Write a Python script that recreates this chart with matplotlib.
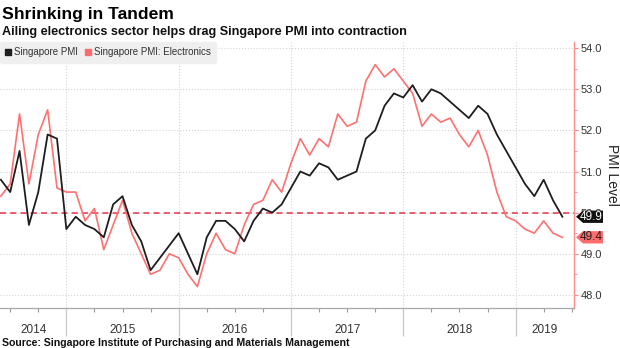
import matplotlib
matplotlib.use('Agg')
import matplotlib.pyplot as plt
import matplotlib.transforms as mtransforms
from matplotlib.patches import Polygon
from matplotlib.lines import Line2D
from matplotlib.ticker import MultipleLocator, FixedLocator, NullFormatter, FormatStrFormatter

plt.rcParams['font.family'] = ['Liberation Sans', 'DejaVu Sans']

# ---- data (monthly, May 2014 .. May 2019) ----
start_year, start_month = 2014, 5
pmi = [50.8, 50.5, 51.5, 49.7, 50.5, 51.9, 51.8, 49.6, 49.9, 49.7,
       49.6, 49.4, 50.2, 50.4, 49.7, 49.3, 48.6, 48.9, 49.2, 49.5,
       49.0, 48.5, 49.4, 49.8, 49.8, 49.6, 49.3, 49.8, 50.1, 50.0,
       50.2, 50.6, 51.0, 50.9, 51.2, 51.1, 50.8, 50.9, 51.0, 51.8,
       52.0, 52.6, 52.9, 52.8, 53.1, 52.7, 53.0, 52.9, 52.7, 52.5,
       52.3, 52.6, 52.4, 51.9, 51.5, 51.1, 50.7, 50.4, 50.8, 50.3,
       49.9]
electronics = [50.4, 50.7, 52.4, 50.7, 51.9, 52.5, 50.6, 50.5, 50.5, 49.8,
               50.1, 49.1, 49.7, 50.3, 49.5, 49.0, 48.5, 48.6, 49.0, 48.9,
               48.5, 48.2, 49.0, 49.5, 49.1, 49.0, 49.7, 50.2, 50.3, 50.8,
               50.5, 51.2, 51.8, 51.4, 51.8, 51.6, 52.4, 52.1, 52.2, 53.2,
               53.6, 53.3, 53.5, 53.2, 52.9, 52.1, 52.4, 52.2, 52.3, 51.9,
               51.6, 52.0, 51.4, 50.5, 49.9, 49.8, 49.6, 49.5, 49.8, 49.5,
               49.4]
series_labels = ['Singapore PMI', 'Singapore PMI: Electronics']
years = [2014, 2015, 2016, 2017, 2018, 2019]
y_ticks = [48.0, 49.0, 50.0, 51.0, 52.0, 53.0, 54.0]
threshold = 50.0

# x position: months since Jan 2014, month-end placement
x = [(start_year - years[0]) * 12 + start_month + i for i in range(len(pmi))]

BLACK = '#1e1e1e'
RED = '#ff7070'

fig = plt.figure(figsize=(6.2, 3.48), dpi=100)
ax = fig.add_axes([0.0, 0.1149, 0.9258, 0.7644])

xmin, xmax = 4.91, 66.24
ax.set_xlim(xmin, xmax)
ax.set_ylim(47.68, 54.15)

ax.plot(x, electronics, color=RED, lw=1.2, zorder=3)
ax.plot(x, pmi, color=BLACK, lw=1.3, zorder=4)
ax.axhline(threshold, color='#e2354c', lw=1.1, ls=(0, (4, 2.7)), zorder=2.6)

# axes styling
for s in ['top', 'left']:
    ax.spines[s].set_visible(False)
ax.spines['right'].set_color('#ff8a8a')
ax.spines['right'].set_linewidth(1.0)
ax.spines['bottom'].set_color('#a8a8a8')
ax.spines['bottom'].set_linewidth(0.9)

year_bounds = [(y - years[0]) * 12 for y in years[1:]]
ax.xaxis.set_major_locator(FixedLocator(year_bounds))
ax.xaxis.set_minor_locator(MultipleLocator(3))
ax.xaxis.set_major_formatter(NullFormatter())
ax.tick_params(axis='x', which='major', length=20, color='#c8c8c8', width=0.9)
ax.tick_params(axis='x', which='minor', length=3, color='#999999', width=0.8)

ax.yaxis.tick_right()
ax.yaxis.set_major_locator(FixedLocator(y_ticks))
ax.yaxis.set_minor_locator(MultipleLocator(0.5))
ax.yaxis.set_major_formatter(FormatStrFormatter('%.1f'))
ax.tick_params(axis='y', which='major', length=3, color='#ff8a8a', labelsize=8,
               labelcolor='#333333', pad=2)
ax.tick_params(axis='y', which='minor', length=2, color='#ff8a8a')

ax.grid(axis='both', which='major', color='#d4d4d4', ls=':', lw=0.8)
ax.set_axisbelow(True)

# year labels
trans = mtransforms.blended_transform_factory(ax.transData, ax.transAxes)
for i, yr in enumerate(years):
    lo = max(xmin, (yr - years[0]) * 12)
    hi = min(xmax, (yr - years[0] + 1) * 12)
    ax.text((lo + hi) / 2, -0.095, str(yr), transform=trans, ha='center',
            va='baseline', fontsize=8.5, color='#333333')

# value tags
ttag = mtransforms.blended_transform_factory(ax.transAxes, ax.transData)
h = 0.15
for v, fc, tc in [(pmi[-1], '#111111', 'white'), (electronics[-1], '#ff6b6b', '#222222')]:
    poly = Polygon([(1.0035, v), (1.0157, v + h), (1.0505, v + h),
                    (1.0505, v - h), (1.0157, v - h)], closed=True,
                   transform=ttag, facecolor=fc, edgecolor='none',
                   clip_on=False, zorder=10)
    ax.add_patch(poly)
    ax.text(1.0305, v, f'{v:.1f}', transform=ttag, ha='center', va='center',
            fontsize=8.5, color=tc, zorder=11, clip_on=False)

# legend
handles = [Line2D([], [], marker='s', ls='none', color=BLACK, markersize=5),
           Line2D([], [], marker='s', ls='none', color='#ff6b6b', markersize=5)]
leg = ax.legend(handles, series_labels, loc='upper left', bbox_to_anchor=(0, 1),
                ncol=2, frameon=True, facecolor='#efefef', edgecolor='#efefef',
                fontsize=7, handlelength=0.6, handletextpad=0.3,
                columnspacing=0.7, borderpad=0.55, borderaxespad=0.0,
                fancybox=True, framealpha=1)
for t in leg.get_texts():
    t.set_color('#333333')

fig.text(612 / 620, 1 - 175 / 348, 'PMI Level', rotation=270, ha='center',
         va='center', fontsize=10, color='#222222')

fig.text(1.5 / 620, 1 - 18.5 / 348, 'Shrinking in Tandem', fontsize=12.6,
         fontweight='bold', color='#000000', va='baseline')
fig.text(1.5 / 620, 1 - 35 / 348,
         'Ailing electronics sector helps drag Singapore PMI into contraction',
         fontsize=9.1, fontweight='bold', color='#111111', va='baseline')
fig.text(2 / 620, 1 - 345.5 / 348,
         'Source: Singapore Institute of Purchasing and Materials Management',
         fontsize=7.55, fontweight='bold', color='#111111', va='baseline')

fig.savefig('out.png', dpi=100)
